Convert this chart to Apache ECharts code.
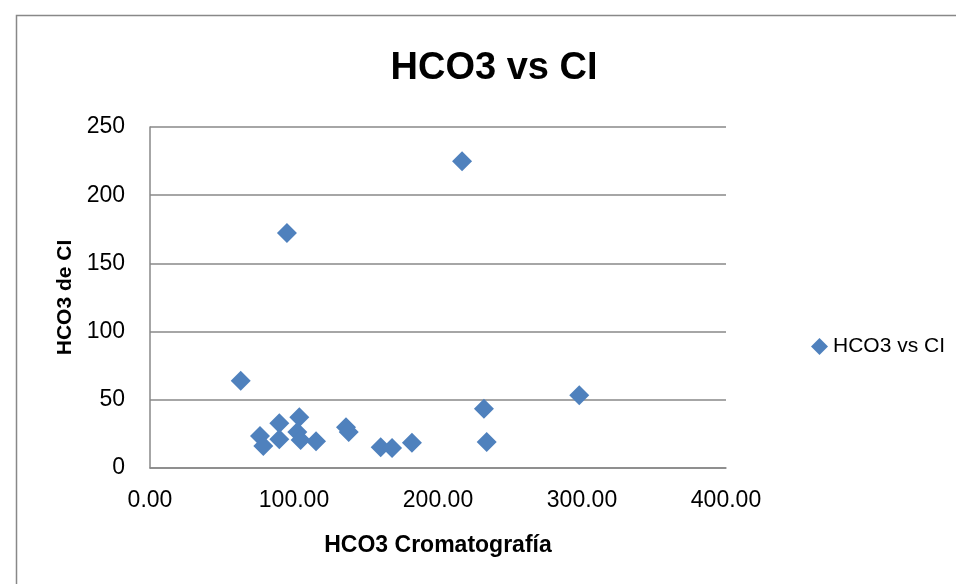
<!DOCTYPE html>
<html><head><meta charset="utf-8">
<script src="https://cdn.jsdelivr.net/npm/echarts@6/dist/echarts.min.js"></script>
<style>html,body{margin:0;padding:0;background:#fff}#c{width:956px;height:584px}</style>
</head><body><div id="c"></div>
<script>
const seriesName = 'HCO3 vs CI';
const xValues = [63.0, 76.4, 78.7, 89.8, 89.8, 103.7, 102.3, 104.6, 115.3, 136.1, 138.0, 160.2, 168.1, 181.9, 231.9, 233.8, 298.1, 216.7, 95.1];
const yValues = [64.0, 23.5, 16.1, 32.8, 21.1, 37.2, 26.4, 20.5, 19.6, 29.9, 26.4, 15.2, 14.7, 18.6, 43.5, 19.1, 53.3, 224.8, 172.2];
const points = xValues.map((x, i) => [x, yValues[i]]);

const chart = echarts.init(document.getElementById('c'));
const font = 'Liberation Sans, Arial, sans-serif';
chart.setOption({
  animation: false,
  title: { text: 'HCO3 vs CI', left: 489, top: 45, textAlign: 'center',
    textStyle: { fontFamily: font, fontSize: 38, fontWeight: 'bold', color: '#000' } },
  graphic: [{ type: 'rect', shape: { x: 16.5, y: 15.5, width: 960, height: 600 },
    style: { fill: 'none', stroke: '#888', lineWidth: 1.5 }, silent: true }],
  legend: { left: 806, top: 331, itemWidth: 17, itemHeight: 17, itemGap: 6,
    textStyle: { fontFamily: font, fontSize: 21, color: '#000' },
    data: [{ name: seriesName, icon: 'diamond' }] },
  grid: { left: 150, right: 230, top: 127, bottom: 116 },
  xAxis: { type: 'value', min: 0, max: 400, interval: 100,
    name: 'HCO3 Cromatografía', nameLocation: 'middle', nameGap: 66,
    nameTextStyle: { fontFamily: font, fontSize: 23, fontWeight: 'bold', color: '#000' },
    axisLine: { show: true, lineStyle: { color: '#888', width: 1.5 } },
    axisTick: { show: false }, splitLine: { show: false },
    axisLabel: { margin: 21, fontFamily: font, fontSize: 23, color: '#000', formatter: v => v.toFixed(2) } },
  yAxis: { type: 'value', min: 0, max: 250, interval: 50,
    name: 'HCO3 de CI', nameLocation: 'middle', nameGap: 72, nameRotate: 90,
    nameTextStyle: { fontFamily: font, fontSize: 21, fontWeight: 'bold', color: '#000' },
    axisLine: { show: true, lineStyle: { color: '#888', width: 1.5 } },
    axisTick: { show: false },
    splitLine: { lineStyle: { color: '#888', width: 1.5 } },
    axisLabel: { margin: 25, fontFamily: font, fontSize: 23, color: '#000' } },
  series: [{ name: seriesName, type: 'scatter', symbol: 'diamond', symbolSize: 20,
    itemStyle: { color: '#4F81BD', opacity: 1 }, data: points }]
});
</script></body></html>
